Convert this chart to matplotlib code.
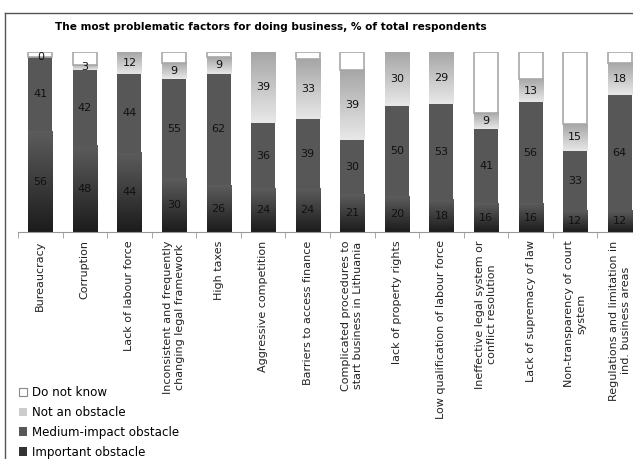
import matplotlib
matplotlib.use("Agg")
import matplotlib.pyplot as plt
import numpy as np
from matplotlib.patches import Patch
from matplotlib.lines import Line2D
from matplotlib.colors import LinearSegmentedColormap

# survey answers per factor, % of respondents
factors = [
    "Bureaucracy",
    "Corruption",
    "Lack of labour force",
    "Inconsistent and frequently\nchanging legal framework",
    "High taxes",
    "Aggressive competition",
    "Barriers to access finance",
    "Complicated procedures to\nstart business in Lithuania",
    "lack of property rights",
    "Low qualification of labour force",
    "Ineffective legal system or\nconflict resolution",
    "Lack of supremacy of law",
    "Non-transparency of court\nsystem",
    "Regulations and limitation in\nind. business areas",
]
important = [56, 48, 44, 30, 26, 24, 24, 21, 20, 18, 16, 16, 12, 12]
medium = [41, 42, 44, 55, 62, 36, 39, 30, 50, 53, 41, 56, 33, 64]
not_obstacle = [0, 3, 12, 9, 9, 39, 33, 39, 30, 29, 9, 13, 15, 18]
do_not_know = [3, 7, 0, 6, 3, 0, 4, 10, 0, 0, 34, 15, 40, 6]

W, H = 633, 459
fig = plt.figure(figsize=(W / 100, H / 100), dpi=100)
ax = fig.add_axes([18 / W, 1 - 232 / H, 624 / W, 180 / H])

dark_cmap = LinearSegmentedColormap.from_list("dark", ["#1c1c1c", "#5c5c5c"])
light_cmap = LinearSegmentedColormap.from_list("light", ["#e8e8e8", "#a6a6a6"])
grad = np.linspace(0, 1, 64).reshape(-1, 1)

series = [important, medium, not_obstacle, do_not_know]
data = np.array(series, dtype=float)
# 100% stacked: scale each factor to its row total
pct = data / data.sum(axis=0) * 100

x = np.arange(len(factors)) + 0.5
bw = 0.54
bottom = np.zeros(len(factors))
for k in range(4):
    for i in range(len(factors)):
        h = pct[k, i]
        y0 = bottom[i]
        x0, x1 = x[i] - bw / 2, x[i] + bw / 2
        if k == 0:
            ax.imshow(grad, extent=[x0, x1, y0, y0 + h], origin="lower",
                      aspect="auto", cmap=dark_cmap, zorder=2)
        elif k == 1:
            ax.bar(x[i], h, bw, bottom=y0, color="#575757", zorder=2)
        elif k == 2:
            if h > 0:
                ax.imshow(grad, extent=[x0, x1, y0, y0 + h], origin="lower",
                          aspect="auto", cmap=light_cmap, zorder=2)
        else:
            if h > 0:
                ax.bar(x[i], h, bw, bottom=y0, color="white",
                       edgecolor="#a8a8a8", linewidth=1.2, zorder=3)
        if k < 3:
            ax.text(x[i], y0 + h / 2, str(series[k][i]), ha="center",
                    va="center", fontsize=8, color="#111111", zorder=4)
        bottom[i] += h

ax.set_xlim(0, len(factors))
ax.set_ylim(0, 100)
for s in ["top", "right", "left"]:
    ax.spines[s].set_visible(False)
ax.spines["bottom"].set_color("#999999")
ax.set_yticks([])
ax.set_xticks(x)
ax.set_xticklabels(factors, rotation=90, fontsize=8, color="#222222",
                   ha="center", va="top", multialignment="center")
ax.tick_params(axis="x", which="major", length=0, pad=6)
ax.set_xticks(np.arange(len(factors) + 1), minor=True)
ax.tick_params(axis="x", which="minor", length=4, color="#999999")

fig.text(271 / W, 1 - 27 / H,
         "The most problematic factors for doing business, % of total respondents",
         ha="center", va="center", fontsize=7.6, fontweight="bold")

# outer frame
fig.add_artist(Line2D([5 / W, 5 / W], [0, 1 - 13 / H], transform=fig.transFigure,
                      color="#555555", lw=1))
fig.add_artist(Line2D([5 / W, 1], [1 - 13 / H, 1 - 13 / H], transform=fig.transFigure,
                      color="#555555", lw=1))

handles = [
    Patch(facecolor="white", edgecolor="#888888", linewidth=0.8),
    Patch(facecolor="#cccccc", edgecolor="none"),
    Patch(facecolor="#575757", edgecolor="none"),
    Patch(facecolor="#333333", edgecolor="none"),
]
labels = ["Do not know", "Not an obstacle", "Medium-impact obstacle", "Important obstacle"]
fig.legend(handles, labels, loc="upper left", bbox_to_anchor=(19 / W, 1 - 386 / H),
           frameon=False, fontsize=8.6, handlelength=0.7, handleheight=0.7,
           handletextpad=0.35, labelspacing=0.58, borderpad=0, borderaxespad=0)

fig.savefig("out.png", dpi=100)
